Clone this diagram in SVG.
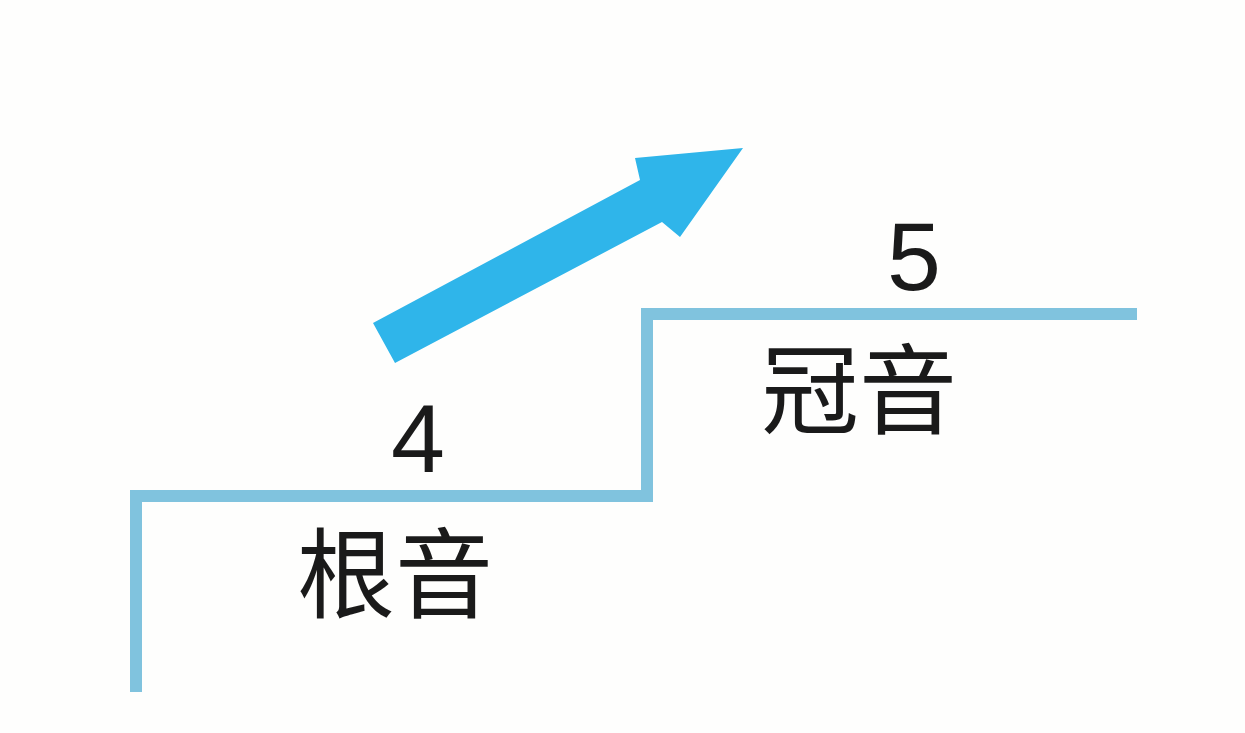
<svg xmlns="http://www.w3.org/2000/svg" width="1245" height="733" viewBox="0 0 1245 733">
<style>
.step{fill:none;stroke:#80c3de;stroke-width:12;stroke-linejoin:miter;stroke-linecap:butt}
.num{font-family:"Liberation Sans",Arial,sans-serif;font-size:97px;fill:#1a1a1a;text-anchor:middle}
.lbl{font-family:"Noto Sans CJK SC","Noto Sans CJK JP",sans-serif;font-size:98px;fill:#1a1a1a;text-anchor:middle}
</style>
<rect width="1245" height="733" fill="#fefefd"/>
<g id="connectors">
<path id="stairs" class="step" d="M136,692 V496 H647 V314 H1137"/>
<polygon id="arrow" fill="#2fb5ea" points="373,323 640,180 635,158 743,148 680,237 662,222 395,363"/>
</g>
<g id="root">
<text class="num" x="418" y="472">4</text>
<text class="lbl" x="395" y="610">根音</text>
</g>
<g id="crown">
<text class="num" x="914" y="290">5</text>
<text class="lbl" x="859" y="426">冠音</text>
</g>
</svg>
